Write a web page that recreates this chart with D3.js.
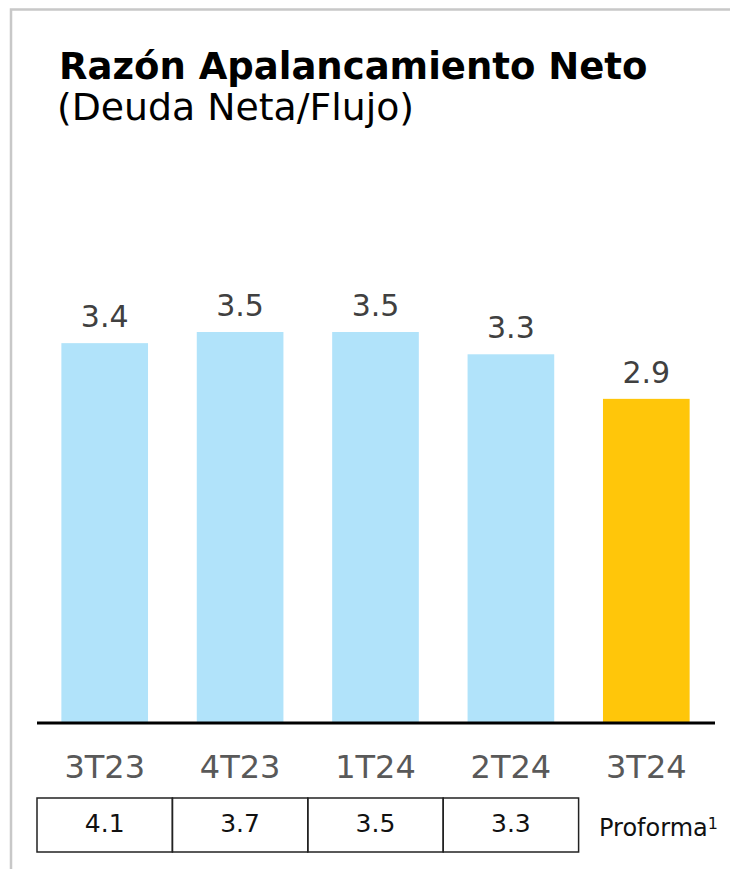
<!DOCTYPE html>
<html>
<head>
<meta charset="utf-8">
<script src="https://cdn.jsdelivr.net/npm/d3@7"></script>
<style>
  body { margin: 0; background: #fff; }
  svg { display: block; font-family: "DejaVu Sans", Verdana, sans-serif; }
</style>
</head>
<body>
<div id="canvas"></div>
<script>
var categories = ['3T23', '4T23', '1T24', '2T24', '3T24'];
var values = [3.4, 3.5, 3.5, 3.3, 2.9];
var tableValues = ['4.1', '3.7', '3.5', '3.3'];
var highlight = '3T24';

var width = 730, height = 869;
var baseY = 722;

var svg = d3.select('#canvas').append('svg')
    .attr('width', width)
    .attr('height', height);

// frame (top + left lines)
svg.append('path')
    .attr('d', 'M 11 869 L 11 9.5 L 730 9.5')
    .attr('fill', 'none')
    .attr('stroke', '#c8c8c8')
    .attr('stroke-width', 2.5);

// title
svg.append('text')
    .attr('x', 59).attr('y', 79)
    .attr('font-size', 37).attr('font-weight', 'bold')
    .attr('fill', '#000')
    .text('Razón Apalancamiento Neto');
svg.append('text')
    .attr('x', 57).attr('y', 120)
    .attr('font-size', 37.8)
    .attr('fill', '#000')
    .text('(Deuda Neta/Flujo)');

var x = d3.scaleBand()
    .domain(categories)
    .range([37, 714])
    .paddingInner(0.36)
    .paddingOuter(0.18);

var y = d3.scaleLinear()
    .domain([0, 3.5])
    .range([baseY, 332]);

var data = categories.map(function (c, i) { return {cat: c, value: values[i]}; });

svg.selectAll('rect.bar')
    .data(data)
    .enter().append('rect')
    .attr('class', 'bar')
    .attr('x', function (d) { return x(d.cat); })
    .attr('y', function (d) { return y(d.value); })
    .attr('width', x.bandwidth())
    .attr('height', function (d) { return baseY - y(d.value); })
    .attr('fill', function (d) { return d.cat == highlight ? '#ffc60a' : '#b1e3fa'; });

svg.selectAll('text.val')
    .data(data)
    .enter().append('text')
    .attr('class', 'val')
    .attr('x', function (d) { return x(d.cat) + x.bandwidth() / 2; })
    .attr('y', function (d) { return y(d.value) - 16; })
    .attr('text-anchor', 'middle')
    .attr('font-size', 30)
    .attr('fill', '#404040')
    .text(function (d) { return d3.format('.1f')(d.value); });

// baseline
svg.append('line')
    .attr('x1', 37).attr('x2', 715)
    .attr('y1', baseY + 1).attr('y2', baseY + 1)
    .attr('stroke', '#000')
    .attr('stroke-width', 3);

// category axis
var axis = svg.append('g')
    .attr('transform', 'translate(0,' + baseY + ')')
    .call(d3.axisBottom(x).tickSize(0).tickPadding(56));
axis.select('.domain').remove();
axis.selectAll('text')
    .attr('font-family', '"DejaVu Sans", Verdana, sans-serif')
    .attr('font-size', 32)
    .attr('fill', '#595959')
    .attr('dy', null);

// proforma table
var cell = d3.scaleBand()
    .domain(categories)
    .range([37, 714]);

var rows = categories.slice(0, tableValues.length).map(function (c, i) {
    return {cat: c, text: tableValues[i]};
});

svg.selectAll('rect.cell')
    .data(rows)
    .enter().append('rect')
    .attr('class', 'cell')
    .attr('x', function (d) { return cell(d.cat); })
    .attr('y', 798)
    .attr('width', cell.bandwidth())
    .attr('height', 54)
    .attr('fill', 'none')
    .attr('stroke', '#222')
    .attr('stroke-width', 1.5);

svg.selectAll('text.cell')
    .data(rows)
    .enter().append('text')
    .attr('class', 'cell')
    .attr('x', function (d) { return cell(d.cat) + cell.bandwidth() / 2; })
    .attr('y', 832)
    .attr('text-anchor', 'middle')
    .attr('font-size', 25)
    .attr('fill', '#111')
    .text(function (d) { return d.text; });

var pf = svg.append('text')
    .attr('x', 599).attr('y', 836)
    .attr('font-size', 24)
    .attr('fill', '#111')
    .text('Proforma');
pf.append('tspan')
    .attr('font-size', 16)
    .attr('dy', -7)
    .text('1');
</script>
</body>
</html>
